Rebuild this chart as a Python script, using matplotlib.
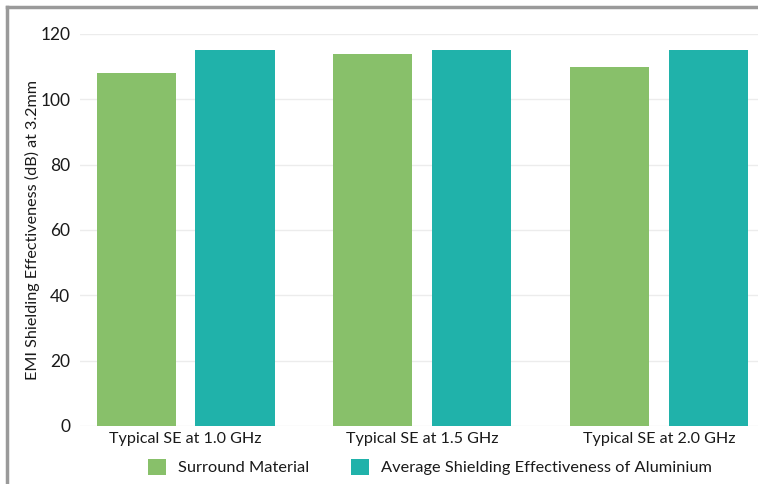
import matplotlib
matplotlib.use("Agg")
import matplotlib.pyplot as plt
from matplotlib.lines import Line2D
from matplotlib.patches import Patch
import numpy as np

categories = ["Typical SE at 1.0 GHz", "Typical SE at 1.5 GHz", "Typical SE at 2.0 GHz"]
surround = [108, 114, 110]
aluminium = [115, 115, 115]
series_names = ["Surround Material", "Average Shielding Effectiveness of Aluminium"]
colors = ["#88C06A", "#20B2AA"]
yticks = [0, 20, 40, 60, 80, 100, 120]

plt.rcParams['font.family'] = ['Lato', 'DejaVu Sans']

fig = plt.figure(figsize=(7.58, 4.84), dpi=100)
W, H = 758, 484
ax = fig.add_axes([80 / W, 1 - 426 / H, (758 - 80) / W, (426 - 34) / H])

x = np.arange(len(categories))
bw = 0.334
off = 0.209
ax.bar(x - off, surround, bw, color=colors[0], zorder=3)
ax.bar(x + off, aluminium, bw, color=colors[1], zorder=3)

ax.set_xlim(-0.446, 2.419)
ax.set_ylim(0, 120)
ax.set_yticks(yticks)
ax.set_xticks(x)
ax.set_xticklabels(categories, fontsize=11.6, color="#1a1a1a")
ax.tick_params(axis='y', length=0, pad=7, labelsize=12.5, labelcolor="#1a1a1a")
ax.tick_params(axis='x', length=0, pad=4)
ax.grid(axis='y', color="#ececec", linewidth=1, zorder=0)
for s in ax.spines.values():
    s.set_visible(False)
ax.set_ylabel("EMI Shielding Effectiveness (dB) at 3.2mm", fontsize=11.6, color="#1a1a1a")
ax.yaxis.set_label_coords((40 - 80) / 678, 0.5)

handles = [Patch(facecolor=c) for c in colors]
fig.legend(handles, series_names, loc='center', bbox_to_anchor=(430 / W, 1 - 467 / H),
           ncol=2, frameon=False, fontsize=11.8, handlelength=1.1, handleheight=1.1,
           columnspacing=2.6, handletextpad=0.7, labelcolor="#1a1a1a")

# outer frame lines (top and left)
fig.add_artist(Line2D([7 / W, 1], [1 - 7 / H, 1 - 7 / H], color="#9a9a9a", linewidth=2.5, transform=fig.transFigure))
fig.add_artist(Line2D([7 / W, 7 / W], [0, 1 - 7 / H], color="#9a9a9a", linewidth=2.5, transform=fig.transFigure))

fig.savefig("out.png", dpi=100)
